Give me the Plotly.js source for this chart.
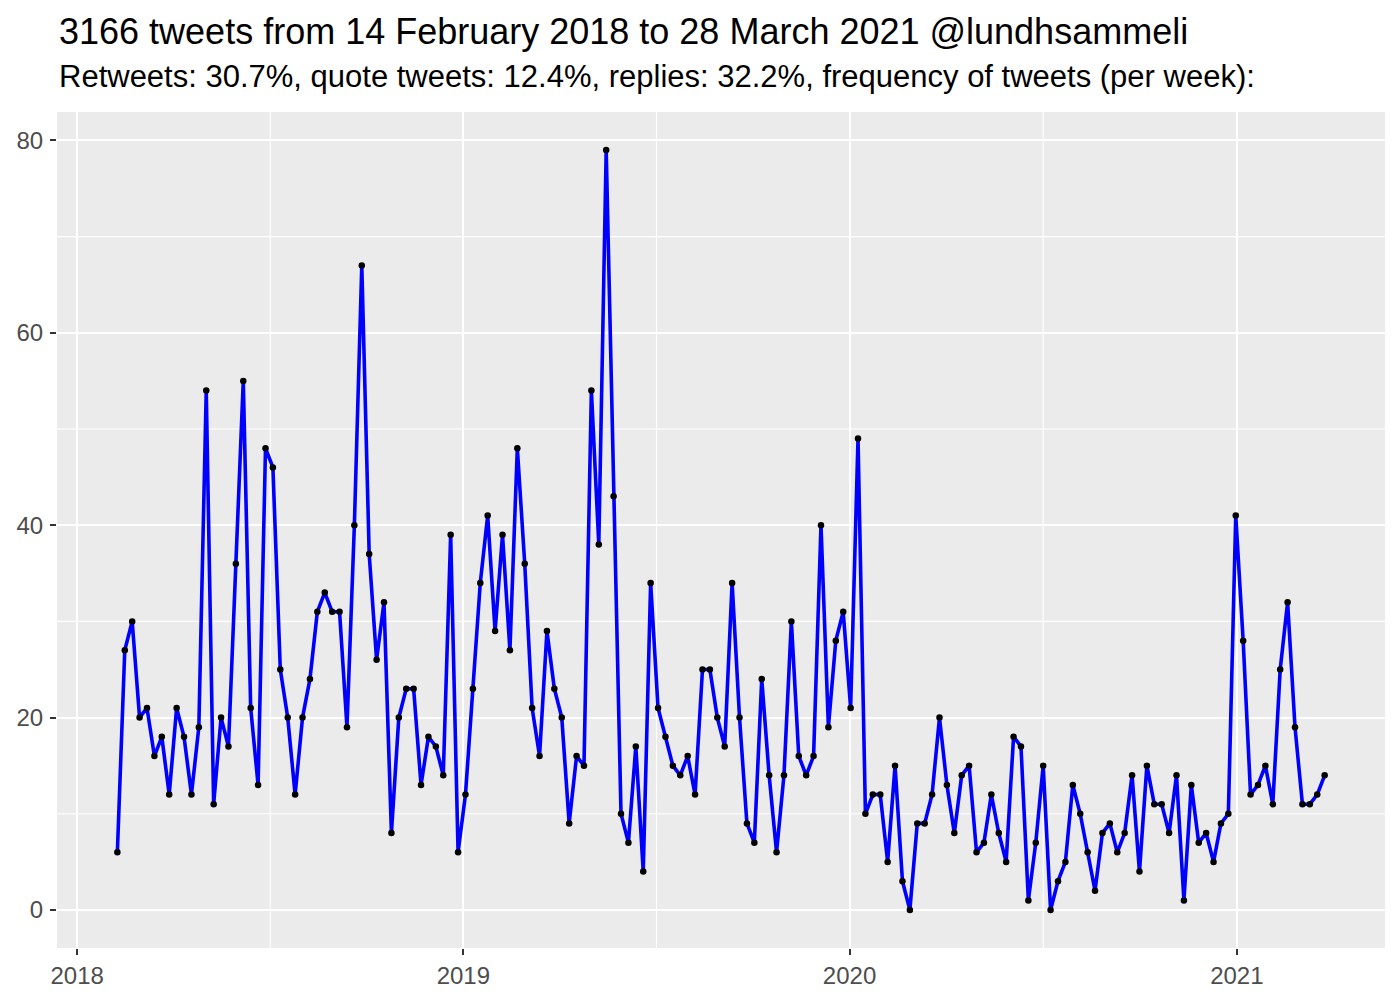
<!DOCTYPE html>
<html>
<head>
<meta charset="utf-8">
<script src="https://cdn.plot.ly/plotly-3.0.1.min.js"></script>
<style>
html,body{margin:0;padding:0;background:#fff;}
#chart{width:1400px;height:1000px;}
</style>
</head>
<body>
<div id="chart"></div>
<script>
// Weekly tweet counts (weeks start on Thursdays, first week 2018-02-08)
const firstWeek = "2018-02-08";
const tweetsPerWeek = [
  6,27,30,20,21,16,18,12,21,18,
  12,19,54,11,20,17,36,55,21,13,
  48,46,25,20,12,20,24,31,33,31,
  31,19,40,67,37,26,32,8,20,23,
  23,13,18,17,14,39,6,12,23,34,
  41,29,39,27,48,36,21,16,29,23,
  20,9,16,15,54,38,79,43,10,7,
  17,4,34,21,18,15,14,16,12,25,
  25,20,17,34,20,9,7,24,14,6,
  14,30,16,14,16,40,19,28,31,21,
  49,10,12,12,5,15,3,0,9,9,
  12,20,13,8,14,15,6,7,12,8,
  5,18,17,1,7,15,0,3,5,13,
  10,6,2,8,9,6,8,14,4,15,
  11,11,8,14,1,13,7,8,5,9,
  10,41,28,12,13,15,11,25,32,19,
  11,11,12,14
];
const yTickVals = [0,20,40,60,80];
const yTickText = ["0","20","40","60","80"];
const xTickVals = ["2018-01-01","2019-01-01","2020-01-01","2021-01-01"];
const xTickText = ["2018","2019","2020","2021"];
const titleText = "3166 tweets from 14 February 2018 to 28 March 2021 @lundhsammeli";
const subtitleText = "Retweets: 30.7%, quote tweets: 12.4%, replies: 32.2%, frequency of tweets (per week):";

// weekly dates
const DAY = 86400000;
const t0 = Date.parse(firstWeek + "T00:00:00Z");
const weekDates = tweetsPerWeek.map((_, i) => new Date(t0 + i * 7 * DAY).toISOString().slice(0, 10));

// ggplot-style 5% expansion
const tFirst = t0, tLast = t0 + (tweetsPerWeek.length - 1) * 7 * DAY;
const padT = (tLast - tFirst) * 0.05;
const xr = [new Date(tFirst - padT).toISOString(), new Date(tLast + padT).toISOString()];
const yMax = Math.max(...tweetsPerWeek), yMin = Math.min(...tweetsPerWeek);
const padY = (yMax - yMin) * 0.05;
const yr = [yMin - padY, yMax + padY];

// minor grid positions (midpoints)
const yMinor = [10,30,50,70];
const xMinor = ["2018-07-02T12:00","2019-07-02T12:00","2020-07-02","2021-07-02T12:00"];

const shapes = [];
yMinor.forEach(v => shapes.push({type:"line", xref:"paper", x0:0, x1:1, yref:"y", y0:v, y1:v, line:{color:"#ffffff", width:1.1}, layer:"below"}));
xMinor.forEach(v => shapes.push({type:"line", yref:"paper", y0:0, y1:1, xref:"x", x0:v, x1:v, line:{color:"#ffffff", width:1.1}, layer:"below"}));

const trace = {
  x: weekDates,
  y: tweetsPerWeek,
  type: "scatter",
  mode: "lines+markers",
  line: {color: "#0000FF", width: 3.6},
  marker: {color: "#000000", size: 6.5},
  hoverinfo: "x+y"
};

const PLOT_TOP = 112, PLOT_BOTTOM = 948, PH = PLOT_BOTTOM - PLOT_TOP;
function py(px){ return (PLOT_BOTTOM - px) / PH; }
const FONT = "Liberation Sans, Arial, sans-serif";

const layout = {
  width: 1400, height: 1000,
  margin: {l: 57, r: 15, t: PLOT_TOP, b: 1000 - PLOT_BOTTOM, pad: 0},
  paper_bgcolor: "#ffffff",
  plot_bgcolor: "#EBEBEB",
  font: {family: FONT, color: "#4D4D4D"},
  showlegend: false,
  xaxis: {
    type: "date",
    range: xr,
    tickmode: "array",
    tickvals: xTickVals,
    ticktext: xTickText,
    showgrid: true, gridcolor: "#ffffff", gridwidth: 2.1,
    zeroline: false, showline: false,
    ticks: "outside", ticklen: 6, tickwidth: 2, tickcolor: "#333333",
    tickfont: {size: 24, color: "#4D4D4D", family: FONT},
    ticklabelstandoff: 0,
    fixedrange: true
  },
  yaxis: {
    range: yr,
    tickmode: "array",
    tickvals: yTickVals,
    ticktext: yTickText,
    showgrid: true, gridcolor: "#ffffff", gridwidth: 2.1,
    zeroline: false, showline: false,
    ticks: "outside", ticklen: 6, tickwidth: 2, tickcolor: "#333333",
    tickfont: {size: 24, color: "#4D4D4D", family: FONT},
    ticklabelstandoff: 2,
    fixedrange: true
  },
  shapes: shapes,
  annotations: [
    {text: titleText, xref: "paper", yref: "paper", x: 0, y: py(31.5), xanchor: "left", yanchor: "middle",
     showarrow: false, font: {size: 36, color: "#000000", family: FONT}},
    {text: subtitleText, xref: "paper", yref: "paper", x: 0, y: py(77), xanchor: "left", yanchor: "middle",
     showarrow: false, font: {size: 31, color: "#000000", family: FONT}}
  ]
};

Plotly.newPlot("chart", [trace], layout, {displayModeBar: false, staticPlot: true});
</script>
</body>
</html>
